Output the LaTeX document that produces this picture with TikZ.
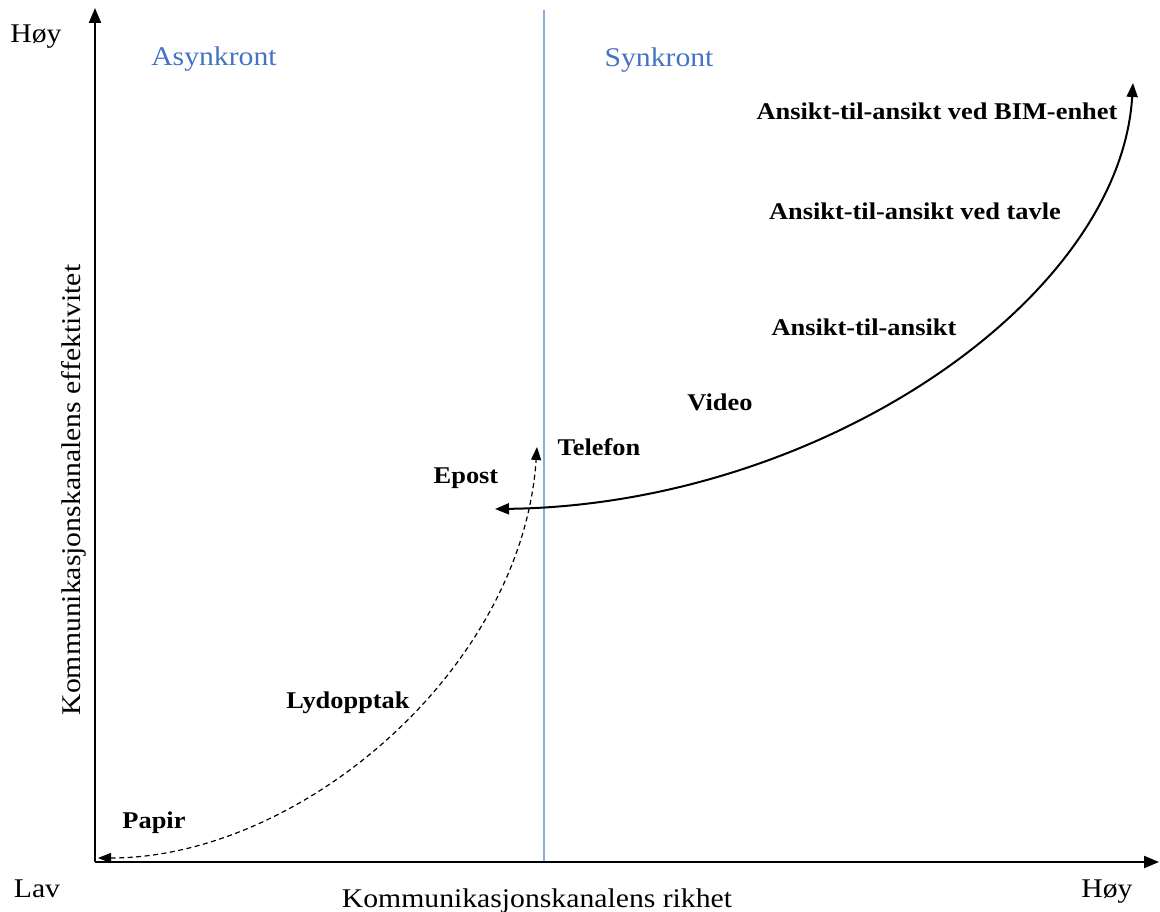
\documentclass[tikz,border=0pt]{standalone}
\usepackage{fontspec}
\setmainfont[FakeStretch=1.1]{Liberation Serif}
\usetikzlibrary{arrows.meta}
\definecolor{headblue}{HTML}{4472C4}
\definecolor{divblue}{HTML}{8FAADC}
\begin{document}
\begin{tikzpicture}[x=1pt,y=-1pt,
  axis/.style={line width=2.2pt,-{Triangle[length=15pt,width=12pt]}},
  curve/.style={line width=2pt,{Triangle[length=14pt,width=11pt]}-{Triangle[length=14pt,width=11pt]}},
  dcurve/.style={line width=1.2pt,dash pattern=on 5pt off 3.5pt,{Triangle[length=13pt,width=10pt]}-{Triangle[length=13pt,width=10pt]}},
  lbl/.style={font=\fontsize{24}{28}\selectfont\bfseries,anchor=base,inner sep=0pt},
  plain/.style={font=\fontsize{27}{32}\selectfont,anchor=base,inner sep=0pt},
  head/.style={plain,text=headblue}]
\useasboundingbox (0,0) rectangle (1160,912);

% axes and the divider between the two halves
\coordinate (O) at (95,862);
\coordinate (ytop) at (95,8);
\coordinate (xend) at (1159,862);
\coordinate (divtop) at (544,10);
\coordinate (divbot) at (544,862);
\draw[divblue,line width=1.6pt] (divbot) -- (divtop);
\draw[axis] (O) -- (ytop);
\draw[axis] (O) -- (xend);

% axis labels
\node[plain] (hoyY) at (36,43) {Høy};
\node[plain] (lav) at (37,897) {Lav};
\node[plain] (hoyX) at (1107,897) {Høy};
\node[plain] (xlab) at (537,907) {Kommunikasjonskanalens rikhet};
\node[plain,rotate=90] (ylab) at (80,490) {Kommunikasjonskanalens effektivitet};

% region headings
\node[head] (asyn) at (214,66) {Asynkront};
\node[head] (syn) at (659,67) {Synkront};

% channels
\node[lbl] (bim) at (937,120) {Ansikt-til-ansikt ved BIM-enhet};
\node[lbl] (tavle) at (915,220) {Ansikt-til-ansikt ved tavle};
\node[lbl] (ansikt) at (864,335) {Ansikt-til-ansikt};
\node[lbl] (video) at (720,410) {Video};
\node[lbl] (telefon) at (599,455) {Telefon};
\node[lbl] (epost) at (466,483) {Epost};
\node[lbl] (lyd) at (348,708) {Lydopptak};
\node[lbl] (papir) at (154,828) {Papir};

% synchronous curve
\coordinate (sA) at (495,509);
\coordinate (sB) at (1133,83);
\draw[curve] (sA) .. controls (820,505) and (1120,300) .. (sB);

% asynchronous curve
\coordinate (dA) at (98,858);
\coordinate (dB) at (537,447);
\draw[dcurve] (dA) .. controls (300,858) and (522,670) .. (dB);
\end{tikzpicture}
\end{document}
